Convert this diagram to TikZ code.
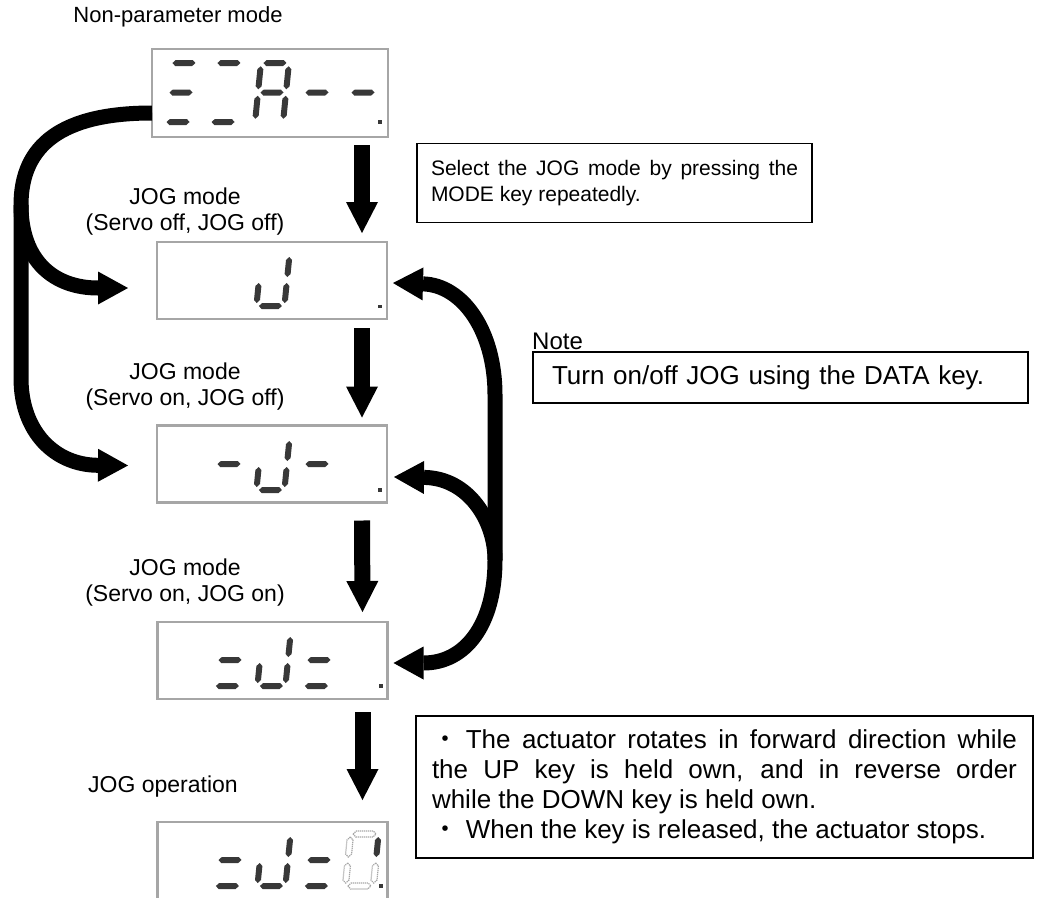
\documentclass[tikz,border=0pt]{standalone}
\usepackage{fontspec}
\setmainfont{Liberation Sans}
\newfontfamily\cjkfont{Noto Sans CJK JP}
\usetikzlibrary{arrows.meta,calc}
\definecolor{segc}{HTML}{383838}
\definecolor{framec}{HTML}{A6A6A6}
\def\rh{26}
\def\vh{7}
\tikzset{
  segfill/.style={fill=segc},
  hollow/.style={draw=gray!70,fill=white,line width=1.2pt,dash pattern=on 1.2pt off 0.8pt},
  disp/.style={draw=framec,line width=2.5pt,fill=white,minimum width=230pt,minimum height=77pt,inner sep=0pt,outer sep=0pt},
  tbox/.style={draw=black,line width=1.8pt,inner ysep=0pt,outer sep=0pt},
  downarr/.style={line width=16pt,-{Triangle[length=31pt,width=32pt,line width=0pt]}},
  bigloop/.style={line width=15pt},
  tipend/.style={-{Triangle[length=30pt,width=33pt,line width=0pt]}},
  tipboth/.style={{Triangle[length=30pt,width=33pt,line width=0pt]}-{Triangle[length=30pt,width=33pt,line width=0pt]}},
}
\newcommand\SegH[2][segfill]{\path[#1,shift={(0,#2)}] (-11.5,0) -- (-8.5,-3) -- (8.5,-3) -- (11.5,0) -- (8.5,3) -- (-8.5,3) -- cycle;}
\newcommand\SegV[3][segfill]{\path[#1,shift={(#2,#3)}] (0,-\vh-3) -- (3,-\vh) -- (3,\vh) -- (0,\vh+3) -- (-3,\vh) -- (-3,-\vh) -- cycle;}
\newcommand\SgT[1][segfill]{\SegH[#1]{-\rh}}
\newcommand\SgM[1][segfill]{\SegH[#1]{0}}
\newcommand\SgB[1][segfill]{\SegH[#1]{\rh}}
\newcommand\SgUL[1][segfill]{\SegV[#1]{-14}{-\rh/2}}
\newcommand\SgUR[1][segfill]{\SegV[#1]{14}{-\rh/2}}
\newcommand\SgLL[1][segfill]{\SegV[#1]{-14}{\rh/2}}
\newcommand\SgLR[1][segfill]{\SegV[#1]{14}{\rh/2}}
\newcommand\Dgt[3]{\begin{scope}[shift={(#1,#2)},xslant=0.1]#3\end{scope}}
\newcommand\DPt[2]{\fill[segc] (#1-1.9,#2-1.9) rectangle (#1+1.9,#2+1.9);}
\begin{document}
\begin{tikzpicture}[x=1pt,y=-1pt,every node/.style={font=\fontsize{23}{26}\selectfont}]
\useasboundingbox (0,0) rectangle (1038,897);
\fill[white] (0,0) rectangle (1038,897);
\clip (0,0) rectangle (1038,897);

% displays
\node[disp,minimum width=236pt,minimum height=88pt] (d1) at (270,93) {};
\node[disp] (d2) at (272,280.5) {};
\node[disp] (d3) at (272,464) {};
\node[disp] (d4) at (272.5,660.5) {};
\node[disp] (d5) at (272.5,860.5) {};

% labels
\node[font=\fontsize{22}{26}\selectfont] (t0) at (178,17) {Non-parameter mode};
\node[align=center] (t1) at (185,212) {JOG mode\\(Servo off, JOG off)};
\node[align=center] (t2) at (185,387) {JOG mode\\(Servo on, JOG off)};
\node[align=center] (t3) at (185,583) {JOG mode\\(Servo on, JOG on)};
\node (t4) at (163,787) {JOG operation};

% text boxes
\node[tbox,font=\fontsize{21}{26}\selectfont,text width=367pt,align=justify,minimum height=79pt,inner xsep=14pt] (b1) at (614.5,183) {Select the JOG mode by pressing the\linebreak MODE key repeatedly.};
\node[anchor=west,inner sep=0pt,font=\fontsize{24}{28}\selectfont] (nt) at (532,341) {Note};
\node[tbox,font=\fontsize{26}{30}\selectfont,text width=457pt,align=left,minimum height=51pt,inner xsep=19pt] (b2) at (780.5,377.5) {Turn on/off JOG using the DATA key.};
\node[tbox,font=\fontsize{26}{30}\selectfont,text width=585pt,align=justify,minimum height=142pt,inner xsep=16pt] (b3) at (724.5,787) {{\cjkfont ・}\hspace{0.3em}The actuator rotates in forward direction while\linebreak the UP key is held own, and in reverse order\linebreak while the DOWN key is held own.\\{\cjkfont ・}\hspace{0.3em}When the key is released, the actuator stops.};

% straight arrows
\draw[downarr] ($(d1.south east)+(-26,8)$) -- ($(d2.north east)+(-25,-9)$);
\draw[downarr] ($(d2.south east)+(-25,9)$) -- ($(d3.north east)+(-25,-8)$);
\draw[downarr] ($(d3.south east)+(-25,18)$) -- ($(d4.north east)+(-25,-10)$);
\draw[downarr] ($(d4.south east)+(-25,13)$) -- ($(d5.north east)+(-25,-22)$);

% left loops
\coordinate (LJ) at (21,205);
\coordinate (LV) at (21,378);
\draw[bigloop,tipend] ($(d1.west)+(0,20)$) .. controls (62,113) and (21,145) .. (LJ) -- (LV) .. controls (21,432) and (55,465) .. ($(d3.west)+(-29,1.5)$);
\draw[bigloop,tipend] (LJ) .. controls (21,262) and (55,288) .. ($(d2.west)+(-29,7.5)$);

% right loops
\coordinate (RT) at (495,395);
\coordinate (RB) at (495,560);
\draw[bigloop,tipboth] ($(d2.east)+(6,2.5)$) .. controls (462,285) and (495,330) .. (RT) -- (RB) .. controls (495,625) and (465,663) .. ($(d4.east)+(6,2.5)$);
\draw[bigloop,tipend] (RB) .. controls (495,520) and (468,478) .. ($(d3.east)+(7,13)$);

% digits
\begin{scope}
\def\rh{29.5}\def\vh{8.5}
\Dgt{181}{92.5}{\SgT\SgM\SgB}
\Dgt{226}{92.5}{\SgT\SgB}
\Dgt{272}{92.5}{\SgT\SgUL\SgUR\SgM\SgLL\SgLR}
\Dgt{317}{92.5}{\SgM}
\Dgt{363}{92.5}{\SgM}
\DPt{380}{122}
\end{scope}
\Dgt{273}{280}{\SgUR\SgLL\SgLR\SgB}
\DPt{380}{306.5}
\Dgt{229}{464}{\SgM}
\Dgt{273}{464}{\SgUR\SgLL\SgLR\SgB}
\Dgt{317}{464}{\SgM}
\DPt{380}{490}
\Dgt{230}{660}{\SgM\SgB}
\Dgt{274}{660}{\SgUR\SgLL\SgLR\SgB}
\Dgt{319}{660}{\SgM\SgB}
\DPt{381}{686}
\Dgt{230}{860}{\SgM\SgB}
\Dgt{274}{860}{\SgUR\SgLL\SgLR\SgB}
\Dgt{319}{860}{\SgM\SgB}
\Dgt{362}{860}{\SgT[hollow]\SgUL[hollow]\SgLL[hollow]\SgLR[hollow]\SgB[hollow]\SgUR}
\DPt{381}{886}
\end{tikzpicture}
\end{document}
